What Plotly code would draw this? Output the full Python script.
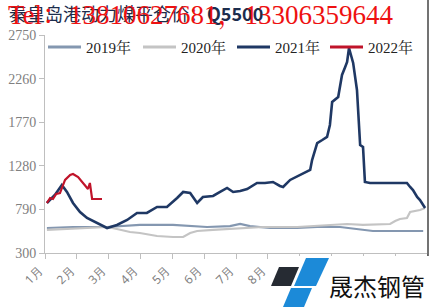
import plotly.graph_objects as go

# x positions are in month units (0 = start of January, 12 = end of December)
x_2019 = [0.06, 0.88, 1.95, 2.98, 4.02, 5.09, 5.81, 6.13, 6.44, 7.07, 7.92, 8.55, 9.27, 9.99, 10.30, 11.88]
y_2019 = [581, 592, 592, 615, 615, 592, 603, 626, 603, 581, 581, 592, 592, 559, 547, 547]

x_2020 = [0.06, 0.88, 1.95, 2.26, 2.67, 2.98, 3.52, 4.02, 4.34, 4.56, 4.78, 5.28, 6.13, 6.85, 7.92,
          8.95, 9.49, 9.99, 10.84, 11.00, 11.15, 11.37, 11.47, 11.78, 11.94]
y_2020 = [559, 570, 592, 570, 536, 525, 491, 480, 480, 525, 547, 559, 581, 592, 592,
          615, 626, 615, 626, 660, 682, 693, 761, 783, 806]

x_2021 = [0.06, 0.31, 0.53, 0.69, 0.88, 1.10, 1.32, 1.57, 1.73, 1.95, 2.26, 2.58, 2.89, 3.20, 3.52,
          3.83, 4.15, 4.34, 4.56, 4.78, 4.96, 5.28, 5.50, 5.72, 5.91, 6.13, 6.35, 6.66, 6.91, 7.16,
          7.38, 7.48, 7.70, 8.01, 8.33, 8.39, 8.42, 8.55, 8.71, 8.86, 8.95, 9.02, 9.21, 9.33, 9.43,
          9.49, 9.55, 9.68, 9.80, 9.90, 9.99, 10.05, 10.21, 10.62, 11.37, 11.47, 11.56, 11.69, 11.78, 11.94]
y_2021 = [862, 952, 1064, 986, 862, 761, 693, 648, 615, 581, 615, 671, 750, 750, 817,
          817, 918, 986, 974, 862, 929, 941, 986, 1031, 986, 997, 1019, 1087, 1087, 1098,
          1053, 1042, 1121, 1177, 1233, 1345, 1379, 1536, 1570, 1604, 1739, 1997, 2053, 2301, 2391,
          2447, 2604, 2436, 2132, 1514, 1491, 1098, 1087, 1087, 1087, 1042, 1008, 929, 896, 806]

x_2022 = [0.06, 0.16, 0.25, 0.35, 0.47, 0.57, 0.63, 0.79, 0.88, 1.04, 1.26, 1.35, 1.41, 1.48, 1.79]
y_2022 = [862, 918, 907, 963, 974, 1064, 1121, 1177, 1188, 1154, 1053, 1019, 1087, 907, 907]

series_names = ["2019年", "2020年", "2021年", "2022年"]
series_colors = ["#8497b0", "#c4c4c4", "#1f3864", "#c0142a"]

tick_vals = list(range(13))
tick_text = ["1月", "2月", "3月", "4月", "5月", "6月", "7月", "8月", "", "", "", "", ""]
y_ticks = [300, 790, 1280, 1770, 2260, 2750]

W, H = 430, 307
L, R, T, B = 45, 3, 35, 54
pw, ph = W - L - R, H - T - B


def px(x):
    return (x - L) / pw


def py(y):
    return (H - B - y) / ph


fig = go.Figure()
xs_all = [x_2019, x_2020, x_2021, x_2022]
ys_all = [y_2019, y_2020, y_2021, y_2022]
widths = [2.2, 2.2, 2.6, 2.2]
for name, xs, ys, col, w in zip(series_names, xs_all, ys_all, series_colors, widths):
    fig.add_trace(go.Scatter(x=xs, y=ys, name=name, mode="lines",
                             line=dict(color=col, width=w), showlegend=False))

shapes = [
    # right border line
    dict(type="line", xref="paper", yref="paper", x0=px(428), x1=px(428), y0=py(0), y1=py(272),
         line=dict(color="#444444", width=1.5)),
    # logo background
    dict(type="rect", xref="paper", yref="paper", x0=px(268), x1=px(430), y0=py(256), y1=py(307),
         fillcolor="white", line=dict(width=0), layer="above"),
    # logo parallelograms
    dict(type="path", xref="paper", yref="paper", layer="above", fillcolor="#262b33", line=dict(width=0),
         path=f"M {px(279)},{py(267)} L {px(299)},{py(267)} L {px(291)},{py(286)} L {px(271)},{py(286)} Z"),
    dict(type="path", xref="paper", yref="paper", layer="above", fillcolor="#1c8ad8", line=dict(width=0),
         path=f"M {px(306)},{py(258)} L {px(329)},{py(258)} L {px(316)},{py(286)} L {px(294)},{py(286)} Z"),
    dict(type="path", xref="paper", yref="paper", layer="above", fillcolor="#1c8ad8", line=dict(width=0),
         path=f"M {px(291)},{py(288)} L {px(312)},{py(288)} L {px(304)},{py(307)} L {px(283)},{py(307)} Z"),
]

annotations = [
    dict(text="晟杰钢管", xref="paper", yref="paper", x=px(327), y=py(285), xanchor="left", yanchor="middle",
         showarrow=False, font=dict(family="Noto Sans CJK SC", size=24, color="#111111"), ),
    dict(text="秦皇岛港动力煤平仓价：<b>Q5500</b>", xref="paper", yref="paper", x=px(7), y=py(13),
         xanchor="left", yanchor="middle", showarrow=False,
         font=dict(family="Noto Sans CJK SC", size=18, color="#1c2d4d")),
    dict(text="Tel：13810627681，13306359644", xref="paper", yref="paper", x=px(6), y=py(15),
         xanchor="left", yanchor="middle", showarrow=False,
         font=dict(family="Liberation Serif, Noto Serif CJK SC, serif", size=27, color="#ee1111")),
]

# legend drawn as line samples + labels
legend_x = [48, 143, 237, 330]
legend_y = 47
for lx, name, col in zip(legend_x, series_names, series_colors):
    shapes.append(dict(type="line", xref="paper", yref="paper", x0=px(lx), x1=px(lx + 33),
                       y0=py(legend_y), y1=py(legend_y), line=dict(color=col, width=3), layer="above"))
    annotations.append(dict(text=name, xref="paper", yref="paper", x=px(lx + 36), y=py(legend_y),
                            xanchor="left", yanchor="middle", showarrow=False,
                            font=dict(family="Liberation Serif, Noto Serif CJK SC, serif", size=15,
                                      color="#222222")))

fig.update_layout(
    width=W, height=H,
    margin=dict(l=L, r=R, t=T, b=B),
    paper_bgcolor="white", plot_bgcolor="white",
    showlegend=False,
    xaxis=dict(range=[0, 12], tickvals=tick_vals, ticktext=tick_text, tickangle=-45,
               showgrid=False, zeroline=False, showline=True, linecolor="#bfbfbf", linewidth=1,
               ticks="outside", ticklen=5, tickcolor="#bfbfbf", ticklabelshift=-6,
               tickfont=dict(family="Noto Sans", size=12, color="#808080")),
    yaxis=dict(range=[300, 2750], tickvals=y_ticks, showgrid=False, zeroline=False,
               showline=True, linecolor="#bfbfbf", linewidth=1,
               ticks="outside", ticklen=5, tickcolor="#bfbfbf",
               tickfont=dict(family="Liberation Serif", size=14, color="#808080")),
    shapes=shapes,
    annotations=annotations,
)

fig.write_html("out.html")
